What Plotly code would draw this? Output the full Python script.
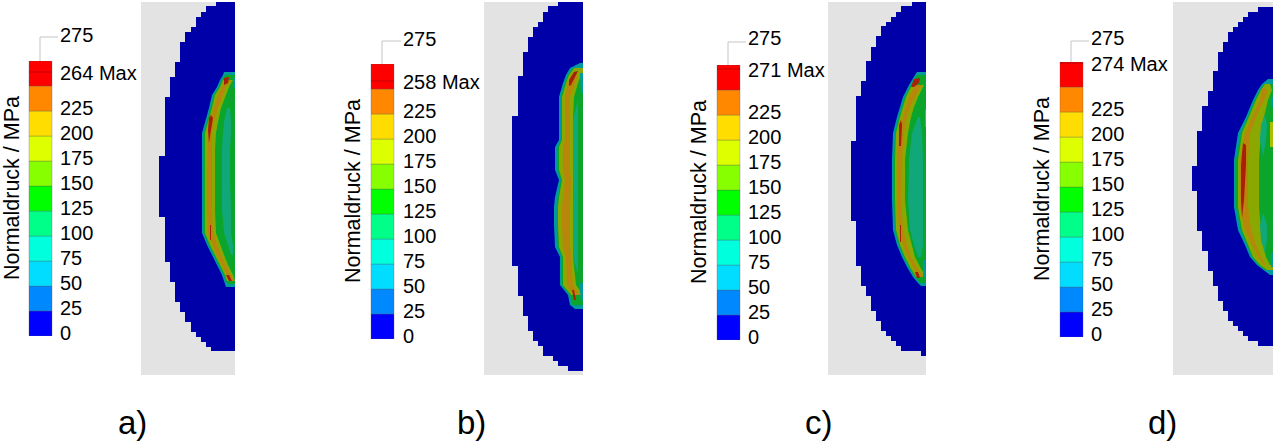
# Normaldruck contact maps a) - d), one half contact face each with its own legend
import plotly.graph_objects as go

N = None

# legend
levels = [0, 25, 50, 75, 100, 125, 150, 175, 200, 225, 250]
level_colors = ["#0000ff", "#0088ff", "#00ddff", "#00ffdd", "#00ff88", "#00ff00",
                "#88ff00", "#ddff00", "#ffdd00", "#ff8800", "#ff0000"]
tick_values = [0, 25, 50, 75, 100, 125, 150, 175, 200, 225]
top_value = 275
max_values = [264, 258, 271, 274]
panel_names = ["a)", "b)", "c)", "d)"]

# blue contact face outline: one x per y interval
a_step_x = [216, 206, 201, 196, 191, 185, 180, 175, 170, 165, 159, 165, 170, 175, 180, 185, 191, 196, 201, 206, 211]
a_step_y = [2, 6, 12, 17, 27, 32, 42, 62, 77, 97, 156, 217, 262, 282, 302, 312, 322, 332, 337, 342, 347, 351]
b_step_x = [558, 548, 543, 538, 533, 528, 523, 518, 512, 518, 523, 528, 533, 538, 543, 553, 558, 568]
b_step_y = [2, 6, 12, 22, 27, 37, 52, 76, 116, 266, 296, 316, 331, 341, 346, 356, 361, 366, 371]
c_step_x = [912, 901, 896, 891, 886, 881, 876, 871, 866, 861, 856, 851, 856, 861, 866, 871, 876, 881, 886, 891, 896, 901, 921]
c_step_y = [2, 6, 12, 17, 22, 26, 36, 47, 61, 81, 96, 141, 221, 266, 286, 296, 311, 321, 331, 336, 341, 346, 351, 356]
d_step_x = [1258, 1248, 1243, 1238, 1233, 1228, 1223, 1218, 1213, 1208, 1202, 1197, 1192, 1197, 1202, 1208, 1213, 1218, 1223, 1228, 1233, 1238, 1243, 1248, 1258]
d_step_y = [7, 12, 17, 22, 27, 32, 42, 52, 71, 91, 106, 131, 166, 191, 231, 251, 271, 286, 301, 311, 321, 326, 331, 336, 341, 346]

# pressure band edges, x of each band's left edge on each row
a_rows = [72, 75, 80, 87, 95, 108, 122, 133, 150, 180, 210, 233, 245, 255, 265, 275, 281, 284, 287]
a_teal = [224, 223, 220, 217, 212, 209, 205, 202, 202, 202, 202, 202, 207, 212, 217, 222, 224, 225, 226]
a_green = [N, 225, 222, 219, 214, 211, 207, 204, 204, 204, 204, 204, 209, 214, 219, 224, 226, 228, N]
a_olive = [N, N, 223, 220, 215, 212, 208, 205, 205, 205, 205, 205, 210, 215, 220, 225, 227, N, N]
a_orange = [N, N, 226, 222, 218, 214, 210, 208, 208, 207, 207, 208, 213, 217, 222, 227, 229, N, N]
a_inner_olive = [N, N, 231, 226, 223, 218, 214, 212, 212, 212, 212, 213, 217, 221, 226, 231, 235, N, N]
a_inner_green = [N, N, 233, 229, 226, 221, 218, 216, 215, 215, 215, 216, 220, 224, 228, 233, 235, N, N]

b_rows = [63, 68, 75, 83, 97, 120, 140, 147, 170, 180, 197, 207, 225, 247, 257, 285, 295, 305, 309]
b_teal = [580, 570, 566, 563, 559, 559, 559, 555, 555, 559, 555, 554, 554, 555, 560, 560, 568, 570, 575]
b_green = [N, 573, 568, 565, 561, 561, 561, 558, 558, 561, 558, 557, 557, 558, 562, 562, 570, 572, N]
b_olive = [N, 574, 569, 566, 562, 562, 562, 559, 559, 562, 559, 558, 558, 559, 563, 563, 571, N, N]
b_orange = [N, N, 573, 568, 565, 565, 565, 563, 563, 565, 563, 562, 562, 563, 566, 567, 574, N, N]
b_inner_olive = [N, N, 578, 575, 570, 570, 570, 570, 570, 571, 570, 570, 570, 570, 571, 573, 580, N, N]
b_inner_green = [N, N, 581, 578, 574, 573, 573, 573, 573, 573, 573, 573, 573, 573, 573, 576, 583, N, N]

c_rows = [72, 75, 85, 97, 107, 117, 133, 160, 200, 230, 245, 257, 267, 277, 283, 286]
c_teal = [917, 915, 909, 903, 900, 897, 893, 892, 892, 893, 897, 902, 907, 913, 918, 921]
c_green = [N, 917, 911, 905, 902, 899, 895, 894, 894, 895, 899, 904, 909, 915, 920, N]
c_olive = [N, N, 912, 906, 903, 900, 896, 895, 895, 896, 900, 905, 910, 916, N, N]
c_orange = [N, N, 915, 909, 906, 903, 899, 897, 897, 899, 903, 908, 913, 919, N, N]
c_inner_olive = [N, N, 922, 915, 910, 907, 904, 902, 901, 903, 907, 911, 917, 923, N, N]
c_inner_green = [N, N, 924, 918, 914, 911, 908, 905, 905, 908, 912, 915, 920, 926, N, N]

d_rows = [79, 84, 90, 100, 117, 133, 160, 207, 230, 245, 257, 265, 270, 275]
d_teal = [1268, 1262, 1258, 1253, 1246, 1238, 1234, 1234, 1238, 1245, 1250, 1257, 1263, 1270]
d_green = [N, 1264, 1260, 1255, 1248, 1241, 1236, 1236, 1241, 1247, 1252, 1259, 1265, N]
d_olive = [N, 1265, 1261, 1256, 1249, 1242, 1238, 1238, 1242, 1248, 1253, 1260, 1267, N]
d_orange = [N, N, 1262, 1260, 1252, 1245, 1240, 1240, 1245, 1252, 1258, 1264, N, N]
d_inner_olive = [N, N, 1268, 1264, 1256, 1250, 1248, 1248, 1251, 1256, 1261, 1266, N, N]
d_inner_green = [N, 1270, 1272, 1268, 1264, 1261, 1259, 1259, 1261, 1263, 1266, 1270, N, N]

# small closed regions on top of the bands: (colour name, x, y)
a_spots = [
    ("lens", [227, 224, 223, 222, 222, 224, 228, 231, 233, 233, 231, 231, 230, 230, 231, 231, 230],
     [108, 122, 133, 150, 210, 233, 245, 255, 255, 245, 233, 210, 180, 150, 133, 122, 108]),
    ("red", [224, 229, 228, 224], [78, 77, 83, 85]),
    ("red", [211, 213, 211, 209, 208, 209], [115, 118, 130, 143, 130, 118]),
    ("red", [210, 211, 211, 210], [225, 225, 240, 240]),
    ("red", [226, 229, 232, 229], [275, 275, 281, 281]),
    ("teal", [233, 235, 235, 233], [78, 78, 88, 88]),
]
b_spots = [
    ("lens", [578, 573, 573, 573, 578, 578, 578], [100, 120, 200, 257, 275, 200, 120]),
    ("red", [578, 574, 569, 569, 571, 575], [71, 72, 80, 86, 85, 77]),
    ("red", [572, 574, 576, 574], [290, 290, 300, 300]),
    ("teal", [580, 583, 583, 581], [73, 73, 93, 93]),
    ("teal", [579, 583, 583, 581], [283, 283, 300, 300]),
]
c_spots = [
    ("lens", [918, 912, 909, 908, 910, 914, 918, 921, 923, 923, 923, 923, 922, 920],
     [117, 133, 160, 200, 230, 245, 257, 257, 245, 230, 200, 160, 133, 117]),
    ("red", [920, 914, 911, 914, 919], [78, 79, 87, 87, 83]),
    ("red", [901, 902, 901, 899, 899], [120, 125, 146, 146, 125]),
    ("red", [900, 901, 901, 900], [225, 225, 242, 242]),
    ("red", [915, 918, 920, 917], [272, 272, 278, 278]),
    ("olive", [925, 926, 926, 925], [110, 110, 127, 127]),
    ("teal", [925, 926, 926, 925], [83, 83, 90, 90]),
    ("teal", [923, 926, 926, 923], [260, 260, 277, 277]),
]
d_spots = [
    ("lens", [1265, 1261, 1260, 1263, 1266, 1267], [115, 125, 140, 157, 140, 125]),
    ("lens", [1263, 1260, 1261, 1265, 1267, 1267], [213, 225, 240, 253, 240, 225]),
    ("red", [1243, 1246, 1246, 1244, 1242, 1241, 1241], [143, 145, 165, 200, 218, 200, 165]),
    ("orange", [1262, 1266, 1265, 1261], [88, 88, 97, 97]),
    ("teal", [1271, 1273, 1273, 1271], [97, 97, 107, 107]),
    ("teal", [1271, 1273, 1273, 1271], [253, 253, 267, 267]),
    ("yellow", [1270, 1273, 1273, 1270], [122, 122, 147, 147]),
]

field_colors = {"blue": "#0000a8", "teal": "#009a9e", "green": "#0aa52a", "olive": "#8aa800",
                "orange": "#b8860a", "lens": "#10a878", "red": "#a82008", "yellow": "#a8c000"}

# panel placement in page pixels
gray_left = [141, 484, 828, 1173]
gray_right = [235, 583, 926, 1273]
bar_left = [29, 371, 717, 1060]
bar_top = [61, 64, 65, 62]
label_x = [58, 401, 746, 1089]
lead_y = [37, 41, 42, 41]
top_shift = [26, 25, 27, 24]
axis_title_x = [12, 353, 699, 1042]
name_x = [132, 471, 819, 1162]
steps = [(a_step_x, a_step_y), (b_step_x, b_step_y), (c_step_x, c_step_y), (d_step_x, d_step_y)]
bands = [
    (a_rows, a_teal, a_green, a_olive, a_orange, a_inner_olive, a_inner_green),
    (b_rows, b_teal, b_green, b_olive, b_orange, b_inner_olive, b_inner_green),
    (c_rows, c_teal, c_green, c_olive, c_orange, c_inner_olive, c_inner_green),
    (d_rows, d_teal, d_green, d_olive, d_orange, d_inner_olive, d_inner_green),
]
spots = [a_spots, b_spots, c_spots, d_spots]
band_names = ["teal", "green", "olive", "orange", "olive", "green"]

W, H = 1273, 442
BAR_W = 23
BAR_H = 275
FONT = "Liberation Sans Narrow, Liberation Sans, Arial"


def area(fig, x, y, color):
    fig.add_trace(go.Scatter(x=x, y=y, mode="lines", fill="toself", fillcolor=color,
                             line=dict(width=0, color=color), hoverinfo="skip", showlegend=False))


fig = go.Figure()
layout_axes = {}
annotations = []
shapes = []

for i in range(4):
    right = gray_right[i]
    # gray backing sheet
    area(fig, [gray_left[i], right, right, gray_left[i]], [2, 2, 375, 375], "#e3e3e3")

    # stepped blue face
    step_x, step_y = steps[i]
    xs, ys = [right], [step_y[0]]
    for k, sx in enumerate(step_x):
        xs += [sx, sx]
        ys += [step_y[k], step_y[k + 1]]
    xs.append(right)
    ys.append(step_y[-1])
    area(fig, xs, ys, field_colors["blue"])

    # pressure bands, painted outside in
    rows = bands[i][0]
    for name, edge in zip(band_names, bands[i][1:]):
        pts = [(x, y) for x, y in zip(edge, rows) if x is not None]
        xs = [right] + [p[0] for p in pts] + [right]
        ys = [pts[0][1]] + [p[1] for p in pts] + [pts[-1][1]]
        area(fig, xs, ys, field_colors[name])
    for name, sx, sy in spots[i]:
        area(fig, sx, sy, field_colors[name])

    # legend bar on its own value axis
    yname = "y%d" % (i + 2)
    fig.add_trace(go.Bar(x=[bar_left[i] + BAR_W / 2] * len(levels), y=[25] * len(levels), base=levels,
                         width=BAR_W, yaxis=yname, marker=dict(color=level_colors, line=dict(width=0.5, color="rgba(90,90,90,0.6)")),
                         hoverinfo="skip", showlegend=False))
    layout_axes["yaxis%d" % (i + 2)] = dict(
        domain=[(H - bar_top[i] - BAR_H) / H, (H - bar_top[i]) / H], range=[0, top_value],
        anchor="x", visible=False, fixedrange=True)
    shapes.append(dict(type="line", xref="x", yref=yname, x0=bar_left[i], x1=bar_left[i] + BAR_W,
                       y0=max_values[i], y1=max_values[i], line=dict(color="rgba(90,0,0,0.35)", width=1)))

    # leader from the bar to the top label
    lead_x = bar_left[i] + 11
    shapes.append(dict(type="path", xref="x", yref="y", line=dict(color="#c4c4c4", width=1),
                       path="M %d %d L %d %d L %d %d" % (lead_x, bar_top[i], lead_x, lead_y[i], label_x[i], lead_y[i])))

    # labels
    for v in tick_values:
        annotations.append(dict(x=label_x[i], y=v, xref="x", yref=yname, text=str(v), yshift=3,
                                xanchor="left", showarrow=False, font=dict(size=20)))
    annotations.append(dict(x=label_x[i], y=top_value, xref="x", yref=yname, text=str(top_value), yshift=top_shift[i],
                            xanchor="left", showarrow=False, font=dict(size=20)))
    annotations.append(dict(x=label_x[i], y=max_values[i], xref="x", yref=yname, text="%d Max" % max_values[i], yshift=-1,
                            xanchor="left", showarrow=False, font=dict(size=20)))
    annotations.append(dict(x=axis_title_x[i], y=bar_top[i] + 127, xref="x", yref="y", text="Normaldruck / MPa",
                            textangle=-90, showarrow=False, font=dict(size=21.5)))
    annotations.append(dict(x=name_x[i], y=422, xref="x", yref="y", text=panel_names[i],
                            showarrow=False, font=dict(size=33)))

fig.update_layout(
    width=W, height=H, margin=dict(l=0, r=0, t=0, b=0), autosize=False,
    paper_bgcolor="white", plot_bgcolor="rgba(0,0,0,0)", barmode="overlay",
    font=dict(family=FONT, color="black"),
    xaxis=dict(range=[0, W], visible=False, fixedrange=True),
    yaxis=dict(range=[H, 0], visible=False, fixedrange=True),
    annotations=annotations, shapes=shapes, **layout_axes,
)

fig.write_html("out.html", config={"displayModeBar": False}, post_script="document.body.style.margin='0';")
